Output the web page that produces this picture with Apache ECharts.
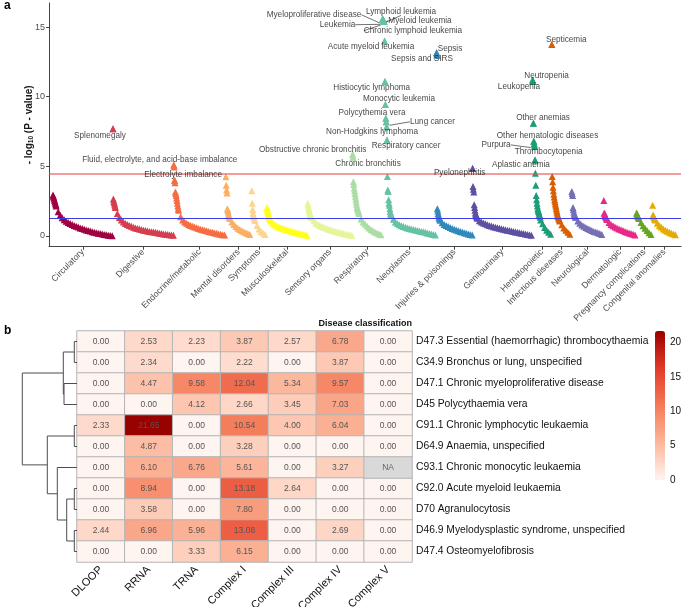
<!DOCTYPE html>
<html><head><meta charset="utf-8">
<script src="https://cdn.jsdelivr.net/npm/echarts@6/dist/echarts.min.js"></script>
<style>html,body{margin:0;padding:0;background:#fff}#c{width:685px;height:607px}</style>
</head><body><div id="c"></div>
<script>
// ---------- Panel a: PheWAS-style plot ----------
const categories = ['Circulatory','Digestive','Endocrine/metabolic','Mental disorders','Symptoms','Musculoskeletal','Sensory organs','Respiratory','Neoplasms','Injuries & poisonings','Genitourinary','Hematopoietic','Infectious diseases','Neurological','Dermatologic','Pregnancy complications','Congenital anomalies'];
const categoryCounts = [150,152,130,65,38,102,112,75,135,90,150,48,50,80,82,40,60];
const categoryColors = ['#9E0142','#D53E4F','#F46D43','#FDAE61','#FDD58C','#FFFF1A','#E6F598','#ABDDA4','#66C2A5','#3288BD','#5E4FA2','#1B9E77','#D95F02','#7570B3','#E7298A','#66A61E','#E6AB02'];

// -log10(P) per category: "Head" = top-ranked phenotypes (consecutive ranks),
// "Tail" = remaining phenotypes read every tailStep ranks.
const tailStep = 5;
const circulatoryHead = [2.95,2.85,2.75,2.65,2.55,2.45,2.35,2.25];
const circulatoryTail = [2.15,1.74,1.48,1.31,1.17,1.06,0.97,0.89,0.83,0.76,0.69,0.64,0.58,0.53,0.48,0.43,0.39,0.35,0.31,0.27,0.24,0.2,0.17,0.14,0.11,0.08,0.06,0.04,0.02];
const digestiveHead = [7.7,2.65,2.52,2.4,2.27,2.15];
const digestiveTail = [2.05,1.62,1.33,1.14,1.01,0.9,0.82,0.75,0.69,0.63,0.58,0.54,0.5,0.46,0.42,0.39,0.36,0.33,0.31,0.28,0.26,0.23,0.2,0.18,0.15,0.13,0.11,0.09,0.07,0.05];
const endocrineHead = [5.1,4.95,4.0,3.82,3.15,3.05,2.9,2.72,2.55,2.35,2.15,1.95];
const endocrineTail = [1.85,1.38,1.15,1.01,0.91,0.83,0.76,0.7,0.64,0.59,0.54,0.49,0.45,0.41,0.37,0.33,0.29,0.26,0.22,0.19,0.15,0.12,0.09,0.07];
const mentalHead = [4.25,3.65,3.3,3.08,1.95,1.85,1.72,1.55,1.45,1.35];
const mentalTail = [1.25,1.0,0.82,0.68,0.56,0.46,0.38,0.3,0.23,0.17,0.11];
const symptomsHead = [3.25,2.35,1.9,1.65,1.5,1.4,1.3,1.2];
const symptomsTail = [1.12,0.75,0.51,0.33,0.21,0.11];
const musculoskeletalHead = [2.05,1.9,1.75,1.62,1.5,1.38,1.3,1.25,1.2,1.15];
const musculoskeletalTail = [1.08,0.92,0.81,0.72,0.65,0.59,0.53,0.48,0.44,0.39,0.35,0.31,0.27,0.24,0.2,0.16,0.13,0.09,0.06];
const sensoryHead = [2.35,2.2,2.05,1.9,1.75,1.62,1.55,1.48,1.42,1.36];
const sensoryTail = [1.3,1.09,0.94,0.85,0.76,0.68,0.62,0.57,0.51,0.47,0.42,0.38,0.33,0.29,0.25,0.21,0.17,0.13,0.1,0.07,0.04];
const respiratoryHead = [5.85,5.65,3.9,3.7,3.45,3.25,3.05,2.85,2.65,2.45,2.28,2.1,2.0,1.92,1.82,1.72];
const respiratoryTail = [1.62,1.22,1.0,0.86,0.71,0.57,0.46,0.37,0.28,0.21,0.14,0.08];
const neoplasmsHead = [15.6,15.55,15.5,15.45,15.4,14.0,11.1,9.45,8.45,8.2,7.85,6.9,4.28,3.3,3.2,2.6,2.35,2.2,1.95,1.75,1.63,1.55];
const neoplasmsTail = [1.5,1.2,1.0,0.89,0.8,0.73,0.68,0.62,0.57,0.54,0.5,0.47,0.43,0.39,0.36,0.33,0.3,0.26,0.22,0.18,0.15,0.11,0.07];
const injuriesHead = [13.15,13.0,1.95,1.8,1.62,1.48,1.35,1.28,1.2];
const injuriesTail = [1.13,0.95,0.83,0.75,0.68,0.6,0.54,0.48,0.43,0.38,0.33,0.28,0.24,0.19,0.15,0.1,0.07];
const genitourinaryHead = [4.85,3.55,3.35,3.15,2.25,2.05,1.85,1.65,1.55,1.48,1.4,1.33];
const genitourinaryTail = [1.27,1.1,1.0,0.93,0.87,0.81,0.76,0.71,0.67,0.63,0.59,0.55,0.52,0.49,0.45,0.42,0.39,0.36,0.32,0.29,0.26,0.23,0.2,0.17,0.14,0.11,0.08,0.06];
const hematopoieticHead = [11.2,11.1,8.1,6.8,6.6,6.45,5.45,4.5,3.65,2.9,2.6,2.35,2.15,1.95,1.85,1.75,1.65,1.55,1.45,1.35];
const hematopoieticTail = [1.15,0.88,0.6,0.42,0.26,0.12];
const infectiousHead = [13.75,4.28,3.9,3.5,3.25,3.0,2.8,2.6,2.45,2.3,2.15,2.0,1.85,1.7,1.58,1.46,1.38,1.3,1.22,1.14];
const infectiousTail = [1.07,0.8,0.58,0.42,0.26,0.13];
const neurologicalHead = [3.2,3.05,2.9,2.05,1.9,1.72,1.58,1.52,1.45,1.38];
const neurologicalTail = [1.32,1.08,0.91,0.79,0.69,0.6,0.53,0.46,0.4,0.33,0.28,0.23,0.17,0.11];
const dermatologicHead = [2.55,1.65,1.6,1.52,1.42,1.36,1.3,1.24];
const dermatologicTail = [1.18,0.97,0.83,0.74,0.65,0.58,0.51,0.45,0.39,0.33,0.27,0.22,0.17,0.12,0.07];
const pregnancyHead = [1.65,1.58,1.5,1.42,1.37,1.32];
const pregnancyTail = [1.26,0.96,0.74,0.56,0.39,0.23,0.1];
const congenitalHead = [2.2,1.5,1.45,1.4,1.32,1.24,1.19];
const congenitalTail = [1.14,0.91,0.74,0.62,0.51,0.42,0.34,0.27,0.2,0.14,0.08];

const heads = [circulatoryHead,digestiveHead,endocrineHead,mentalHead,symptomsHead,musculoskeletalHead,sensoryHead,respiratoryHead,neoplasmsHead,injuriesHead,genitourinaryHead,hematopoieticHead,infectiousHead,neurologicalHead,dermatologicHead,pregnancyHead,congenitalHead];
const tails = [circulatoryTail,digestiveTail,endocrineTail,mentalTail,symptomsTail,musculoskeletalTail,sensoryTail,respiratoryTail,neoplasmsTail,injuriesTail,genitourinaryTail,hematopoieticTail,infectiousTail,neurologicalTail,dermatologicTail,pregnancyTail,congenitalTail];

// labelled phenotypes: [category, rank, text]
const annotations = [
 ['Digestive',0,'Splenomegaly'],
 ['Endocrine/metabolic',0,'Fluid, electrolyte, and acid-base imbalance'],
 ['Endocrine/metabolic',2,'Electrolyte imbalance'],
 ['Respiratory',0,'Obstructive chronic bronchitis'],
 ['Respiratory',1,'Chronic bronchitis'],
 ['Neoplasms',0,'Lymphoid leukemia'],
 ['Neoplasms',1,'Myeloproliferative disease'],
 ['Neoplasms',2,'Myeloid leukemia'],
 ['Neoplasms',3,'Leukemia'],
 ['Neoplasms',4,'Chronic lymphoid leukemia'],
 ['Neoplasms',5,'Acute myeloid leukemia'],
 ['Neoplasms',6,'Histiocytic lymphoma'],
 ['Neoplasms',7,'Monocytic leukemia'],
 ['Neoplasms',8,'Polycythemia vera'],
 ['Neoplasms',9,'Lung cancer'],
 ['Neoplasms',10,'Non-Hodgkins lymphoma'],
 ['Neoplasms',11,'Respiratory cancer'],
 ['Injuries & poisonings',0,'Sepsis'],
 ['Injuries & poisonings',1,'Sepsis and SIRS'],
 ['Genitourinary',0,'Pyelonephritis'],
 ['Hematopoietic',0,'Neutropenia'],
 ['Hematopoietic',1,'Leukopenia'],
 ['Hematopoietic',2,'Other anemias'],
 ['Hematopoietic',3,'Other hematologic diseases'],
 ['Hematopoietic',4,'Purpura'],
 ['Hematopoietic',5,'Thrombocytopenia'],
 ['Hematopoietic',6,'Aplastic anemia'],
 ['Infectious diseases',0,'Septicemia']
];
// label placement (pixels, relative to the point) and leader-line flag
const annotationOffsets = [[-13,7,0],[-14,-5,0],[8.5,-6,0],[-40,-4.6,0],[15,6.6,0],[18.4,-7.3,1],[-69,-4.7,1],[36.6,0.6,1],[-46.3,3.9,1],[28.8,9.2,1],[-13.6,5.7,0],[-13.3,6.4,0],[13.6,-5.5,0],[-13.8,-5.5,0],[46.3,0,1],[-14.6,5.2,0],[19,6,0],[13.4,-4.4,0],[-15,3.8,0],[-13,4.5,0],[14,-4.2,0],[-14,5,0],[9.6,-5.3,0],[13.7,-5.7,0],[-38.2,0.8,1],[14,6,0],[-14,4.8,0],[14.5,-5,0]];

const thresholds = [4.49, 1.30];
const yTicks = [0,5,10,15];

// ---------- Panel b: heatmap ----------
const hmColumns = ['DLOOP','RRNA','TRNA','Complex I','Complex III','Complex IV','Complex V'];
const hmRows = ['D47.3 Essential (haemorrhagic) thrombocythaemia','C34.9 Bronchus or lung, unspecified','D47.1 Chronic myeloproliferative disease','D45 Polycythaemia vera','C91.1 Chronic lymphocytic leukaemia','D64.9 Anaemia, unspecified','C93.1 Chronic monocytic leukaemia','C92.0 Acute myeloid leukaemia','D70 Agranulocytosis','D46.9 Myelodysplastic syndrome, unspecified','D47.4 Osteomyelofibrosis'];
const hmValues = [
 [0.00,2.53,2.23,3.87,2.57,6.78,0.00],
 [0.00,2.34,0.00,2.22,0.00,3.87,0.00],
 [0.00,4.47,9.58,12.04,5.34,9.57,0.00],
 [0.00,0.00,4.12,2.66,3.45,7.03,0.00],
 [2.33,21.65,0.00,10.54,4.00,6.04,0.00],
 [0.00,4.87,0.00,3.28,0.00,0.00,0.00],
 [0.00,6.10,6.76,5.61,0.00,3.27,null],
 [0.00,8.94,0.00,13.18,2.64,0.00,0.00],
 [0.00,3.58,0.00,7.80,0.00,0.00,0.00],
 [2.44,6.96,5.96,13.08,0.00,2.69,0.00],
 [0.00,0.00,3.33,6.15,0.00,0.00,0.00]
];
// hierarchical clustering merges (hclust style): negative = leaf row, positive = earlier merge
const dendroMerges = [[-1,-2,2.7],[-3,-4,13.0],[1,2,13.7],[-5,-6,2.7],[-8,-9,2.7],[-10,-11,2.7],[5,6,10.3],[-7,7,19.7],[4,8,29.7],[3,9,54.7]];
const colorbarTicks = [0,5,10,15,20];

// ---------- build ----------
const FONT = 'Liberation Sans, Arial, Helvetica, sans-serif';
const starts = []; let acc = 0;
categoryCounts.forEach(n => { starts.push(acc); acc += n; });
const centers = categoryCounts.map((n,i) => starts[i] + (n-1)/2);

const series = [];
heads.forEach((head, i) => {
  const pts = head.map((v, r) => [starts[i] + r, v])
    .concat(tails[i].map((v, k) => [starts[i] + head.length + k * tailStep, v]));
  series.push({
    type:'scatter', xAxisIndex:0, yAxisIndex:0, silent:true,
    symbol:'triangle', symbolSize:7,
    itemStyle:{color:categoryColors[i], opacity:1},
    data: pts, z:2
  });
});
series.push({
  type:'line', xAxisIndex:0, yAxisIndex:0, data:[], silent:true, z:3,
  markLine:{silent:true, symbol:'none', label:{show:false},
    data:[
      {yAxis:thresholds[0], lineStyle:{color:'rgba(232,80,80,0.75)', width:1.6, type:'solid'}},
      {yAxis:thresholds[1], lineStyle:{color:'#3B3BEA', width:1, type:'solid'}}
    ]}
});
series.push({
  type:'scatter', xAxisIndex:0, yAxisIndex:0, silent:true, z:5,
  symbol:'triangle', symbolSize:7,
  data: annotations.map((a, k) => {
    const ci = categories.indexOf(a[0]);
    return {name:a[2], value:[starts[ci] + a[1], heads[ci][a[1]]], itemStyle:{color:categoryColors[ci]},
            labelLine:{show: !!annotationOffsets[k][2]}};
  }),
  label:{show:true, position:'inside', fontSize:8.2, color:'#111', fontFamily:FONT, formatter: p => p.name},
  labelLine:{show:false, lineStyle:{color:'#333', width:0.7}},
  labelLayout: p => ({dx: annotationOffsets[p.dataIndex][0], dy: annotationOffsets[p.dataIndex][1], hideOverlap:false})
});

// heatmap
const hmData = [], naData = [];
hmValues.forEach((row, r) => row.forEach((v, c) => {
  if (v === null) naData.push([c, r, 0]); else hmData.push([c, r, v]);
}));
const hmIndex = series.length;
series.push({
  type:'heatmap', xAxisIndex:1, yAxisIndex:1, data:hmData, silent:true,
  itemStyle:{borderColor:'#B5B5B5', borderWidth:1},
  label:{show:true, fontSize:8.5, color:'#555', fontFamily:FONT, formatter: p => p.value[2].toFixed(2)}
});
series.push({
  type:'heatmap', xAxisIndex:1, yAxisIndex:1, data:naData, silent:true,
  itemStyle:{color:'#D9D9D9', borderColor:'#B5B5B5', borderWidth:1},
  label:{show:true, fontSize:8.5, color:'#666', fontFamily:FONT, formatter: () => 'NA'}
});

// dendrogram
const nodes = [];
const child = id => id < 0 ? {h:0, y:-id-1} : nodes[id-1];
const dendroLines = dendroMerges.map(m => {
  const a = child(m[0]), b = child(m[1]), h = m[2];
  nodes.push({h:h, y:(a.y + b.y)/2});
  return {coords:[[a.h, a.y],[h, a.y],[h, b.y],[b.h, b.y]]};
});
series.push({
  type:'lines', coordinateSystem:'cartesian2d', xAxisIndex:2, yAxisIndex:2, polyline:true, silent:true,
  lineStyle:{color:'#4D4D4D', width:1, opacity:1}, data:dendroLines
});

const option = {
  animation:false,
  textStyle:{fontFamily:FONT},
  grid:[
    {left:49, top:3, width:632, height:243.7, outerBoundsMode:'none', containLabel:false},
    {left:77, top:331, width:335, height:231, outerBoundsMode:'none', containLabel:false},
    {left:22.3, top:331, width:54.7, height:231, outerBoundsMode:'none', containLabel:false},
    {left:655, top:331, width:10, height:149, outerBoundsMode:'none', containLabel:false}
  ],
  xAxis:[
    {type:'value', gridIndex:0, min:-10, max:1570,
     axisLine:{show:true, onZero:false, lineStyle:{color:'#444', width:1}},
     axisTick:{show:true, length:3, customValues:centers, lineStyle:{color:'#444'}},
     splitLine:{show:false},
     axisLabel:{customValues:centers, rotate:45, fontSize:8.8, color:'#4D4D4D', margin:4,
       formatter: v => { const i = centers.findIndex(c => Math.abs(c - v) < 0.01); return i >= 0 ? categories[i] : ''; }}},
    {type:'category', gridIndex:1, data:hmColumns, position:'bottom',
     axisLine:{show:false}, axisTick:{show:false}, splitLine:{show:false},
     axisLabel:{rotate:45, fontSize:11, color:'#111', margin:6, interval:0}},
    {type:'value', gridIndex:2, min:0, max:54.7, inverse:true, show:false},
    {type:'value', gridIndex:3, min:0, max:1, show:false}
  ],
  yAxis:[
    {type:'value', gridIndex:0, min:-0.77, max:16.73,
     name:'- log{s|10} (P - value)', nameLocation:'middle', nameGap:14, nameRotate:90, nameMoveOverlap:false,
     nameTextStyle:{fontWeight:'bold', fontSize:10, color:'#1a1a1a',
       rich:{s:{fontSize:6.5, fontWeight:'bold', color:'#1a1a1a', verticalAlign:'bottom', padding:[4,0,0,0]}}},
     axisLine:{show:true, onZero:false, lineStyle:{color:'#444', width:1}},
     axisTick:{show:true, length:3, customValues:yTicks, lineStyle:{color:'#444'}},
     splitLine:{show:false},
     axisLabel:{customValues:yTicks, fontSize:9, color:'#4D4D4D', margin:4}},
    {type:'category', gridIndex:1, data:hmRows, inverse:true, position:'right',
     axisLine:{show:false}, axisTick:{show:false}, splitLine:{show:false},
     axisLabel:{fontSize:10.3, color:'#111', margin:4, align:'left'}},
    {type:'value', gridIndex:2, min:-0.5, max:10.5, inverse:true, show:false},
    {type:'value', gridIndex:3, min:0, max:21.65, position:'right',
     axisLine:{show:false}, axisTick:{show:false}, splitLine:{show:false},
     axisLabel:{customValues:colorbarTicks, fontSize:10, color:'#111', margin:5}}
  ],
  visualMap:{type:'continuous', seriesIndex:hmIndex, min:0, max:21.65, calculable:false, show:true,
    left:655, top:331, itemWidth:10, itemHeight:149, padding:0, text:null, showLabel:false,
    inRange:{color:['#FFF5F0','#FCB79C','#F47A58','#E23A2A','#990000']}},
  graphic:[
    {type:'text', left:4, top:0, style:{text:'a', font:'bold 12px '+FONT, fill:'#000'}},
    {type:'text', left:4, top:325, style:{text:'b', font:'bold 12px '+FONT, fill:'#000'}},
    {type:'text', right:273, top:319, style:{text:'Disease classification', font:'bold 9px '+FONT, fill:'#111'}}
  ],
  series:series
};
echarts.init(document.getElementById('c')).setOption(option);
</script>
</body></html>
